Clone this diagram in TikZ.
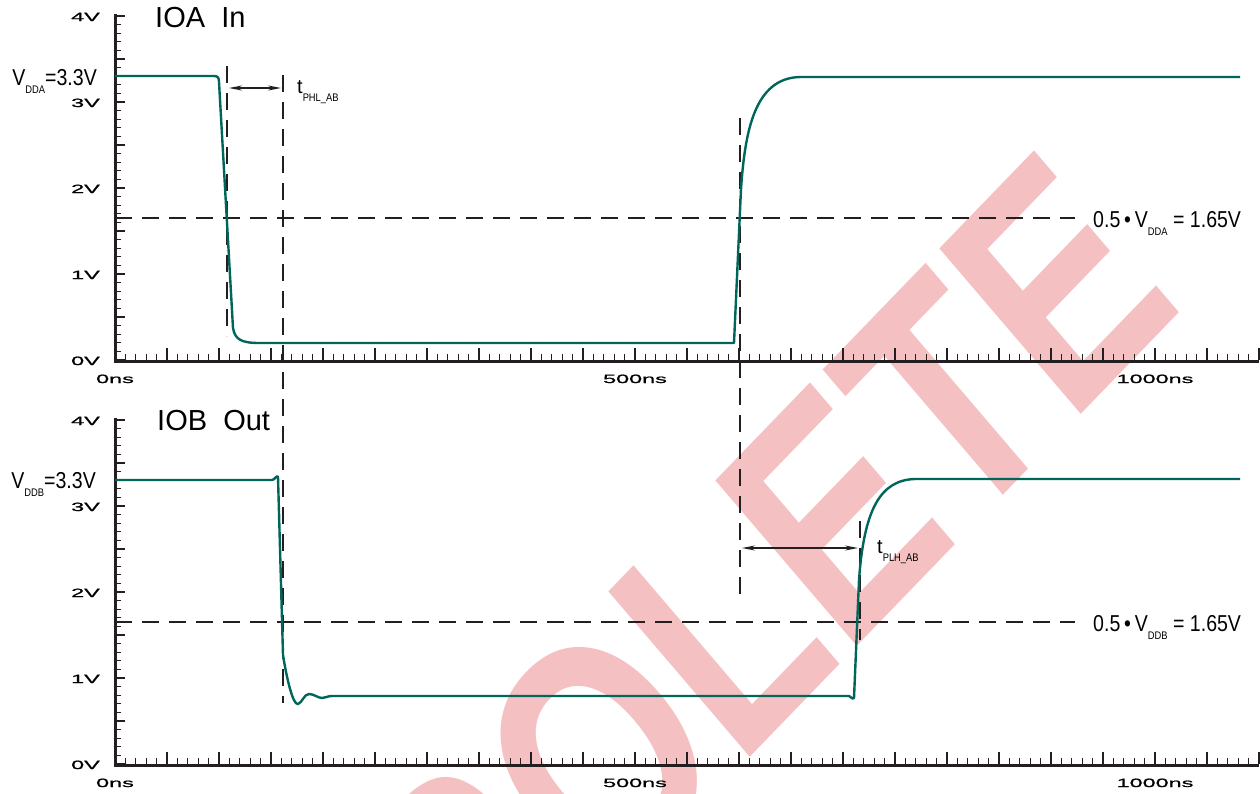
\documentclass[tikz,border=0pt]{standalone}
\usepackage{fontspec}
\setmainfont{Liberation Sans}
\newfontfamily\tickfont[FakeStretch=1.95,FakeBold=1.2]{Liberation Sans}
\newfontfamily\narrowfont[FakeStretch=0.85]{Liberation Sans}
\usepackage{tikz}
\usetikzlibrary{arrows.meta}
\definecolor{trace}{RGB}{0,102,90}
\definecolor{stamp}{RGB}{244,192,193}
\definecolor{axisgray}{RGB}{35,31,32}
\newcommand{\subtxt}[1]{\raisebox{-8pt}{\fontsize{11}{11}\selectfont\narrowfont #1}}

\begin{document}
\begin{tikzpicture}[x=1pt,y=-1pt,
  axisline/.style={draw=axisgray,line width=3pt},
  tickline/.style={draw=axisgray,line width=1.3pt},
  signal/.style={draw=trace,line width=2.4pt,line join=round},
  guide/.style={draw=axisgray,line width=1.2pt,dash pattern=on 17pt off 10pt},
  span/.style={draw=axisgray,line width=1.2pt,{Stealth[length=13pt,width=5pt]}-{Stealth[length=13pt,width=5pt]}},
  vlab/.style={anchor=base east,inner sep=0pt,font=\tickfont\fontsize{12}{12}\selectfont},
  tlab/.style={anchor=base,inner sep=0pt,font=\tickfont\fontsize{12}{12}\selectfont},
  title/.style={anchor=base west,inner sep=0pt,font=\fontsize{29}{29}\selectfont},
  supply/.style={anchor=base east,inner sep=0pt,font=\narrowfont\fontsize{23}{23}\selectfont},
  half/.style={anchor=base west,inner sep=0pt,font=\narrowfont\fontsize{23}{23}\selectfont},
  delay/.style={anchor=base west,inner sep=0pt,font=\fontsize{20}{20}\selectfont}]
\useasboundingbox (0,0) rectangle (1260,793);

% watermark
\node[text=stamp,anchor=base east,inner sep=0pt,rotate=46,xscale=0.8,xslant=0.12,
  font=\fontsize{315}{315}\selectfont\bfseries] (obsolete) at (1186,306) {OBSOLETE};

% axes of both panels
\foreach \off/\pn in {0/a,404/b} {
  \draw[axisline] (115,14+\off) -- (115,361+\off) -- (1259,361+\off);
  \foreach \k in {0,...,40} {
    \pgfmathsetmacro\ty{360+\off-8.6*\k}
    \pgfmathsetmacro\tl{mod(\k,5)==0 ? 10 : 6}
    \draw[tickline] (115,\ty) -- ({115+\tl},\ty);
  }
  \foreach \k in {1,...,110} {
    \pgfmathsetmacro\tx{115+10.4*\k}
    \pgfmathsetmacro\tl{mod(\k,5)==0 ? 12 : 6}
    \draw[tickline] (\tx,360+\off) -- (\tx,{360+\off-\tl});
  }
  \foreach \vv in {0,...,4}
    \node[vlab] (\pn v\vv) at (100,{365+\off-86*\vv}) {\vv V};
  \node[tlab] (\pn t0) at (115,383+\off) {0ns};
  \node[tlab] (\pn t500) at (635,383+\off) {500ns};
  \node[tlab] (\pn t1000) at (1155,383+\off) {1000ns};
}

% titles and supply levels
\node[title] (ina) at (155,27) {IOA\ \ In};
\node[title] (outb) at (157,430) {IOB\ \ Out};
\node[supply] (vdda) at (97,85) {V\subtxt{DDA}=3.3V};
\node[supply] (vddb) at (96,488) {V\subtxt{DDB}=3.3V};

% 50% levels
\draw[guide] (115,218) -- (1075,218);
\draw[guide] (115,622) -- (1075,622);
\node[half] (halfa) at (1093,227) {0.5\,•\,V\subtxt{DDA} = 1.65V};
\node[half] (halfb) at (1093,631) {0.5\,•\,V\subtxt{DDB} = 1.65V};

% timing marks
\draw[guide] (227,66) -- (227,336);
\draw[guide] (283,75) -- (283,703);
\draw[guide] (740,118) -- (740,595);
\draw[guide] (860,521) -- (860,640);
\coordinate (phla) at (229,88);
\coordinate (phlb) at (281,88);
\coordinate (plha) at (742,548);
\coordinate (plhb) at (858,548);
\draw[span] (phla) -- (phlb);
\draw[span] (plha) -- (plhb);
\node[delay] (tphl) at (297,93) {t\subtxt{PHL\_AB}};
\node[delay] (tplh) at (877,553) {t\subtxt{PLH\_AB}};

% waveforms
\draw[signal] (115,76) -- (214,76) .. controls (218,76) and (219,78) .. (219,82)
  -- (233,328) .. controls (235,340) and (242,343) .. (260,343) -- (734,343)
  -- (741,189) .. controls (745,130) and (755,78) .. (800,77) -- (1240,77);
\draw[signal] (115,480) -- (272,480) .. controls (275,480) and (277,474) .. (278,477)
  -- (283,655) .. controls (287,680) and (293,705) .. (298,704)
  .. controls (302,703) and (304,694) .. (309,694)
  .. controls (314,694) and (318,698) .. (322,698)
  .. controls (326,698) and (327,696) .. (332,696) -- (849,696)
  .. controls (851,696) and (852,700) .. (854,698)
  -- (859,580) .. controls (864,510) and (880,480) .. (915,479) -- (1240,479);
\end{tikzpicture}
\end{document}
